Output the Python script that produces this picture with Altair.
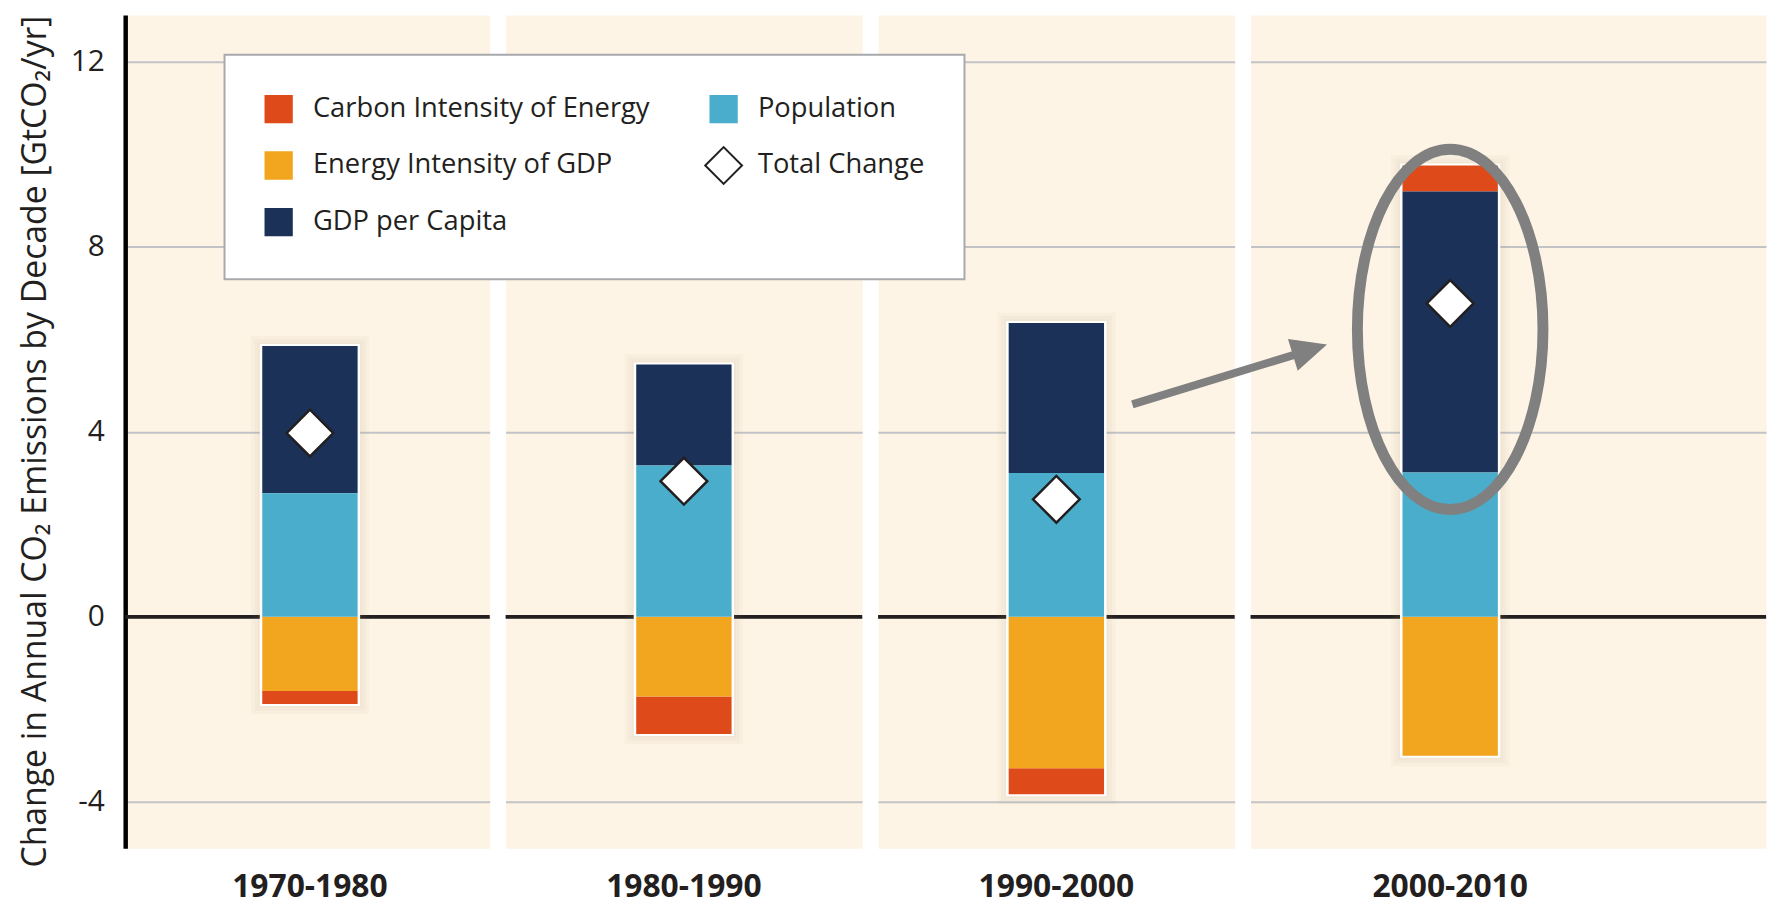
import altair as alt
import pandas as pd

# ---------------- data ----------------
decades = ["1970-1980", "1980-1990", "1990-2000", "2000-2010"]
carbon_intensity = [-0.28, -0.81, -0.56, 0.56]
energy_intensity = [-1.60, -1.72, -3.27, -3.00]
gdp_per_capita = [3.18, 2.18, 3.24, 6.07]
population = [2.67, 3.27, 3.11, 3.12]
total_change = [3.97, 2.93, 2.54, 6.77]

y_ticks = [-4, 0, 4, 8, 12]
y_domain = [-5, 13]
y_title = "Change in Annual CO\u2082 Emissions by Decade [GtCO\u2082/yr]"

total_name = "Total Change"
# legend entries (filled column by column, two columns)
legend_order = ["Carbon Intensity of Energy", "Energy Intensity of GDP", "GDP per Capita",
                "Population", total_name]
fill_colors = ["#DE4A19", "#F2A51E", "#1B3158", "#4AADCB", "#FFFFFF"]
stroke_colors = ["#DE4A19", "#F2A51E", "#1B3158", "#4AADCB", "#231F20"]
stack_sequence = ["Population", "GDP per Capita", "Energy Intensity of GDP",
                  "Carbon Intensity of Energy"]

# annotation (ellipse + arrow) anchors in data units
ellipse_center = 6.21
arrow_tail, arrow_base, arrow_head = 4.59, 5.66, 5.77

# ---------------- styling ----------------
FONT = "Open Sans"
INK = "#231F20"
GRID = "#C2C3C7"
ANNOT = "#808080"
DIAMOND = "M -1.4 0 L 0 -1.4 L 1.4 0 L 0 1.4 Z"
ELLIPSE = "M 0 -1 A 0.515 1 0 1 1 0 1 A 0.515 1 0 1 1 0 -1 Z"
ARROWHEAD = "M 1 0 L -1 -0.93 L -1 0.93 Z"
shapes = ["square", "square", "square", "square", DIAMOND]

panel_widths = [367, 359, 359, 519]
panel_pad = [0.0069, 0.0, 0.0, 0.1455]
panel_align = [1, 0.5, 0.5, 0]
PLOT_H = 839

series = {
    "Carbon Intensity of Energy": carbon_intensity,
    "Energy Intensity of GDP": energy_intensity,
    "GDP per Capita": gdp_per_capita,
    "Population": population,
}
rows = []
for name, vals in series.items():
    for d, v in zip(decades, vals):
        rows.append({"decade": d, "component": name, "value": v,
                     "stack_order": stack_sequence.index(name)})
seg_df = pd.DataFrame(rows)
tot_df = pd.DataFrame({"decade": decades, "component": total_name, "value": total_change})

yscale = alt.Scale(domain=y_domain, nice=False, zero=False)
color_scale = alt.Scale(domain=legend_order, range=fill_colors)
shape_scale = alt.Scale(domain=legend_order, range=shapes)
stroke_scale = alt.Scale(domain=legend_order, range=stroke_colors)

legend = alt.Legend(
    title=None, orient="none", legendX=100, legendY=40, columns=2, padding=40,
    fillColor="#FFFFFF", strokeColor="#A7A9AC", symbolSize=700, symbolStrokeWidth=2,
    symbolOpacity=1, labelFont=FONT, labelFontSize=27.5, labelColor=INK, labelOffset=20,
    rowPadding=16, columnPadding=50, labelLimit=500, zindex=1,
)

main_axis = alt.Axis(
    values=y_ticks, title=y_title, titleFont=FONT, titleFontSize=34, titleFontWeight="normal",
    titleColor=INK, titleX=-80, titleY=429, titleAngle=270, titleAlign="center",
    titleBaseline="alphabetic", labelFont=FONT, labelFontSize=30, labelColor=INK,
    labelPadding=21, labelExpr="'' + datum.value", ticks=False, tickSize=0, domain=True,
    domainColor="#000000", domainWidth=4.5, grid=True, gridColor=GRID, gridWidth=2,
)
grid_axis = alt.Axis(values=y_ticks, title=None, labels=False, ticks=False, tickSize=0,
                     domain=False, grid=True, gridColor=GRID, gridWidth=2)


def panel(i):
    d = decades[i]
    yaxis = main_axis if i == 0 else grid_axis
    xscale = alt.Scale(domain=[d], paddingInner=0, paddingOuter=panel_pad[i], align=panel_align[i])
    xaxis = alt.Axis(title=None, labelAngle=0, labelFont=FONT, labelFontSize=32,
                     labelFontWeight="bold", labelColor=INK, labelPadding=23, ticks=False,
                     tickSize=0, domain=False, grid=False)
    x = alt.X("decade:N", scale=xscale, axis=xaxis)

    def Y(field, **kw):
        return alt.Y(field, scale=yscale, axis=yaxis, **kw)

    def YD(v):
        return alt.YDatum(v, scale=yscale, axis=yaxis)

    one = pd.DataFrame({"decade": [d]})
    seg = alt.Chart(seg_df).transform_filter(alt.datum.decade == d)
    tot = alt.Chart(tot_df).transform_filter(alt.datum.decade == d)

    zero = alt.Chart(one).mark_rule(color=INK, strokeWidth=4).encode(y=YD(0))

    ext = seg.transform_calculate(
        pos="max(datum.value, 0)", neg="min(datum.value, 0)"
    ).transform_aggregate(pos="sum(pos)", neg="sum(neg)", groupby=["decade"])

    layers = [zero]
    for grow, pad in [(22, 0.22), (15, 0.15), (8, 0.08)]:
        layers.append(
            ext.transform_calculate(lo=f"datum.neg - {pad}", hi=f"datum.pos + {pad}")
            .mark_bar(size=97 + grow, color="#9c8468", opacity=0.045)
            .encode(x=x, y=Y("lo:Q"), y2="hi:Q")
        )
    layers.append(
        ext.mark_bar(size=97, color="#FFFFFF", stroke="#FFFFFF", strokeWidth=4)
        .encode(x=x, y=Y("neg:Q"), y2="pos:Q")
    )
    layers.append(
        seg.mark_bar(size=96).encode(
            x=x,
            y=Y("value:Q", stack="zero"),
            color=alt.Color("component:N", scale=color_scale, legend=legend),
            order=alt.Order("stack_order:Q", sort="ascending"),
        )
    )
    layers.append(
        tot.mark_point(filled=True, size=1128, strokeWidth=2.5, opacity=1).encode(
            x=x,
            y=Y("value:Q"),
            color=alt.Color("component:N", scale=color_scale, legend=legend),
            shape=alt.Shape("component:N", scale=shape_scale, legend=legend),
            stroke=alt.Stroke("component:N", scale=stroke_scale, legend=legend),
        )
    )
    if i == len(decades) - 1:
        layers.append(
            alt.Chart(one).mark_point(shape=ELLIPSE, size=131624, filled=False, color=ANNOT,
                                      strokeWidth=11, opacity=1)
            .encode(x=x, y=YD(ellipse_center))
        )
        layers.append(
            alt.Chart(one).mark_rule(color=ANNOT, strokeWidth=8)
            .encode(x=alt.value(-119), x2=alt.value(44), y=YD(arrow_tail), y2=alt.datum(arrow_base))
        )
        layers.append(
            alt.Chart(one).mark_point(shape=ARROWHEAD, size=1296, angle=343, filled=True,
                                      color=ANNOT, opacity=1)
            .encode(x=alt.value(59.8), y=YD(arrow_head))
        )
    return alt.layer(*layers).properties(width=panel_widths[i], height=PLOT_H)


chart = (
    alt.hconcat(*[panel(i) for i in range(len(decades))], spacing=16, bounds="flush")
    .properties(padding={"left": 10, "top": 3, "right": 0, "bottom": 2})
    .configure_view(fill="#FDF4E5", stroke="transparent")
    .configure_legend(strokeWidth=2)
)

chart.save("out.html", embed_options={"renderer": "svg", "actions": False})
